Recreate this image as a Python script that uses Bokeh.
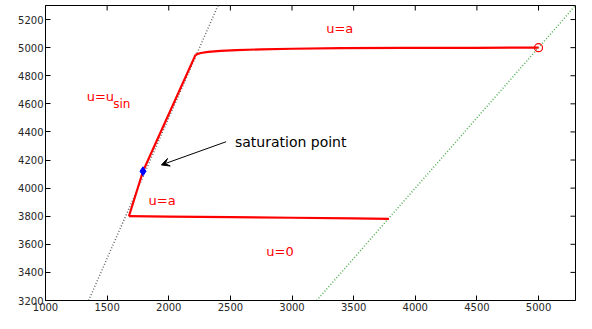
import math
from bokeh.plotting import figure
from bokeh.models import Range1d, FixedTicker, Arrow, VeeHead
from bokeh.core.properties import value
from bokeh.embed import file_html
from bokeh.resources import INLINE

# ---- data ----
x_min, x_max = 1000, 5300
y_min, y_max = 3200, 5300
x_ticks = [1000, 1500, 2000, 2500, 3000, 3500, 4000, 4500, 5000]
y_ticks = [3200, 3400, 3600, 3800, 4000, 4200, 4400, 4600, 4800, 5000, 5200]

# boundary lines
grey_x = [1350, 2400]
grey_y = [3200, 5300]
green_x = [3200, 5300]
green_y = [3200, 5300]

# trajectory: from start point (5000,5000) left, then down the slope, then right
top_x = [5000, 4500, 3900, 3400, 3000, 2750, 2550, 2420, 2320, 2260, 2218]
top_y = [5000, 4999, 4998, 4996, 4992, 4988, 4983, 4977, 4970, 4962, 4950]
slope_x = [2218, 1791, 1677]
slope_y = [4950, 4120, 3800]
bottom_x = [1677, 2000, 2500, 3000, 3500, 3787]
bottom_y = [3800, 3797, 3793, 3789, 3784, 3781]

start_pt = (5000, 5000)
sat_pt = (1791, 4120)

red_labels = ["u=a", "u=u", "u=a", "u=0"]
red_label_x = [3277, 1334, 1836, 2791]
red_label_y = [5139, 4650, 3915, 3550]
sub_label = "sin"
sub_x, sub_y = 1549, 4600

note_text = "saturation point"
note_x, note_y = 2537, 4330
arrow_start = (2465, 4330)
arrow_end = (1940, 4165)

FONT = "DejaVu Sans"

p = figure(width=576, height=313,
           x_range=Range1d(x_min, x_max), y_range=Range1d(y_min, y_max),
           output_backend="svg", toolbar_location=None,
           min_border_left=45, min_border_right=1,
           min_border_top=5, min_border_bottom=0)
p.xgrid.visible = False
p.ygrid.visible = False
p.outline_line_color = "black"
p.outline_line_width = 1
p.background_fill_color = "white"
p.border_fill_color = "white"

for ax, ticks in [(p.xaxis[0], x_ticks), (p.yaxis[0], y_ticks)]:
    ax.ticker = FixedTicker(ticks=ticks)
    ax.major_tick_in = 5
    ax.major_tick_out = 0
    ax.minor_tick_line_color = None
    ax.axis_line_color = "black"
    ax.major_tick_line_color = "black"
    ax.major_label_text_font = FONT
    ax.major_label_text_color = "#262626"
    ax.major_label_text_font_size = "10px"
    ax.major_label_text_line_height = 1.0
    ax.major_label_standoff = 2
    ax.axis_label_standoff = 0

# inward ticks on the top and right edges (dash markers centred on the edge,
# the outer half is clipped by the frame)
p.scatter(x=x_ticks, y=[y_max] * len(x_ticks), marker="dash", size=10,
          angle=math.pi / 2, line_color="black", line_width=1)
p.scatter(x=[x_max] * len(y_ticks), y=y_ticks, marker="dash", size=10,
          line_color="black", line_width=1)

# boundary dotted lines
p.line(grey_x, grey_y, line_color="#666666", line_width=1.5, line_dash="1 2")
p.line(green_x, green_y, line_color="#4fae4f", line_width=1.5, line_dash="1 2")

# trajectory
for xs, ys in [(top_x, top_y), (slope_x, slope_y), (bottom_x, bottom_y)]:
    p.line(xs, ys, line_color="red", line_width=2.2)

p.scatter([start_pt[0]], [start_pt[1]], marker="circle", size=8,
          fill_color=None, line_color="red", line_width=1.2)
p.scatter([sat_pt[0]], [sat_pt[1]], marker="diamond", size=9,
          fill_color="blue", line_color="blue")

# labels
p.text(red_label_x, red_label_y, text=red_labels, text_font=value(FONT),
       text_font_size="13px", text_color="red", text_baseline="middle",
       text_align="left")
p.text([sub_x], [sub_y], text=[sub_label], text_font=value(FONT),
       text_font_size="12px", text_color="red", text_baseline="middle",
       text_align="left")
p.text([note_x], [note_y], text=[note_text], text_font=value(FONT),
       text_font_size="14px", text_color="black", text_baseline="middle",
       text_align="left")

p.add_layout(Arrow(end=VeeHead(size=8, fill_color="black", line_color="black",
                               line_width=1),
                   x_start=arrow_start[0], y_start=arrow_start[1],
                   x_end=arrow_end[0], y_end=arrow_end[1],
                   line_color="black", line_width=1))

open("out.html", "w").write(file_html(p, INLINE))
